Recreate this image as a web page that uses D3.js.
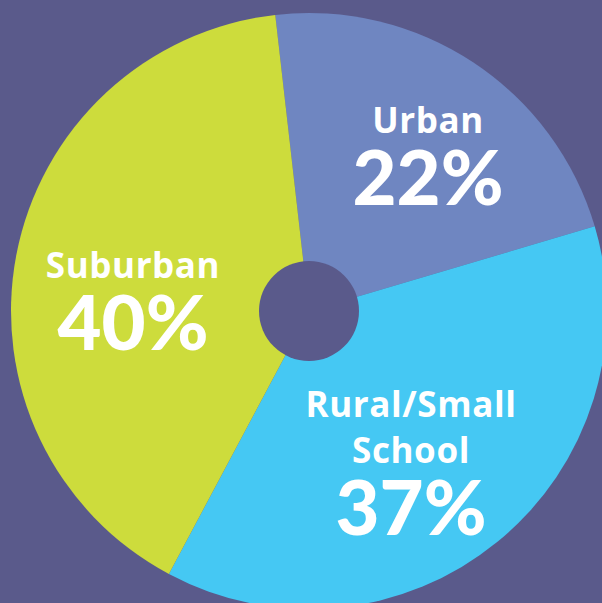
<!DOCTYPE html>
<html>
<head>
<meta charset="utf-8">
<script src="https://cdn.jsdelivr.net/npm/d3@7"></script>
<style>
  html, body { margin: 0; padding: 0; background: #5a5a8b; }
  svg { display: block; }
  text { fill: #ffffff; }
</style>
</head>
<body>
<div id="chart"></div>
<script>
// data
const categories = ["Urban", "Rural/Small School", "Suburban"];
const values = [22, 37, 40];
const nameLines = [["Urban"], ["Rural/Small", "School"], ["Suburban"]];
const colors = ["#6f86c1", "#45c8f3", "#cddc3c"];

const width = 602, height = 603;
const cx = 309, cy = 311;
const outerR = 298, holeR = 50;

// where each label block sits (percent baseline), relative to pie centre
const labelAnchor = {
    "Urban": [119, -106],
    "Rural/Small School": [102, 224],
    "Suburban": [-176, 39]
};

const svg = d3.select("#chart")
    .append("svg")
    .attr("width", width)
    .attr("height", height);

svg.append("rect")
    .attr("width", width).attr("height", height)
    .attr("fill", "#5a5a8b");

const g = svg.append("g").attr("transform", `translate(${cx},${cy})`);

const startA = -6.5 * Math.PI / 180;
const pie = d3.pie()
    .sort(null)
    .value(d => d.value)
    .startAngle(startA)
    .endAngle(startA + 2 * Math.PI);

const data = categories.map((c, i) => ({ name: c, value: values[i], lines: nameLines[i], color: colors[i] }));

const arc = d3.arc().innerRadius(0).outerRadius(outerR);

g.selectAll("path.slice")
    .data(pie(data))
    .enter()
    .append("path")
    .attr("class", "slice")
    .attr("d", arc)
    .attr("fill", d => d.data.color);

// hole in the middle
g.append("circle").attr("r", holeR).attr("fill", "#5a5a8b");

// labels: one text per slice, name lines + big percent as tspans
const labels = g.selectAll("text.label")
    .data(data)
    .enter()
    .append("text")
    .attr("class", "label")
    .attr("text-anchor", "middle")
    .attr("transform", d => `translate(${labelAnchor[d.name][0]},${labelAnchor[d.name][1]})`);

labels.each(function(d) {
    const t = d3.select(this);
    const n = d.lines.length;
    d.lines.forEach((line, i) => {
        t.append("tspan")
            .attr("x", 0)
            .attr("y", -72 - (n - 1 - i) * 46.5)
            .style("font-family", "'Open Sans', Lato, sans-serif")
            .style("font-size", "35px")
            .style("font-weight", 700)
            .style("letter-spacing", "0.6px")
            .text(line);
    });
    t.append("tspan")
        .attr("x", 0)
        .attr("y", 0)
        .style("font-family", "Lato, 'Open Sans', sans-serif")
        .style("font-size", "76px")
        .style("font-weight", 900)
        .text(d.value + "%");
});
</script>
</body>
</html>
